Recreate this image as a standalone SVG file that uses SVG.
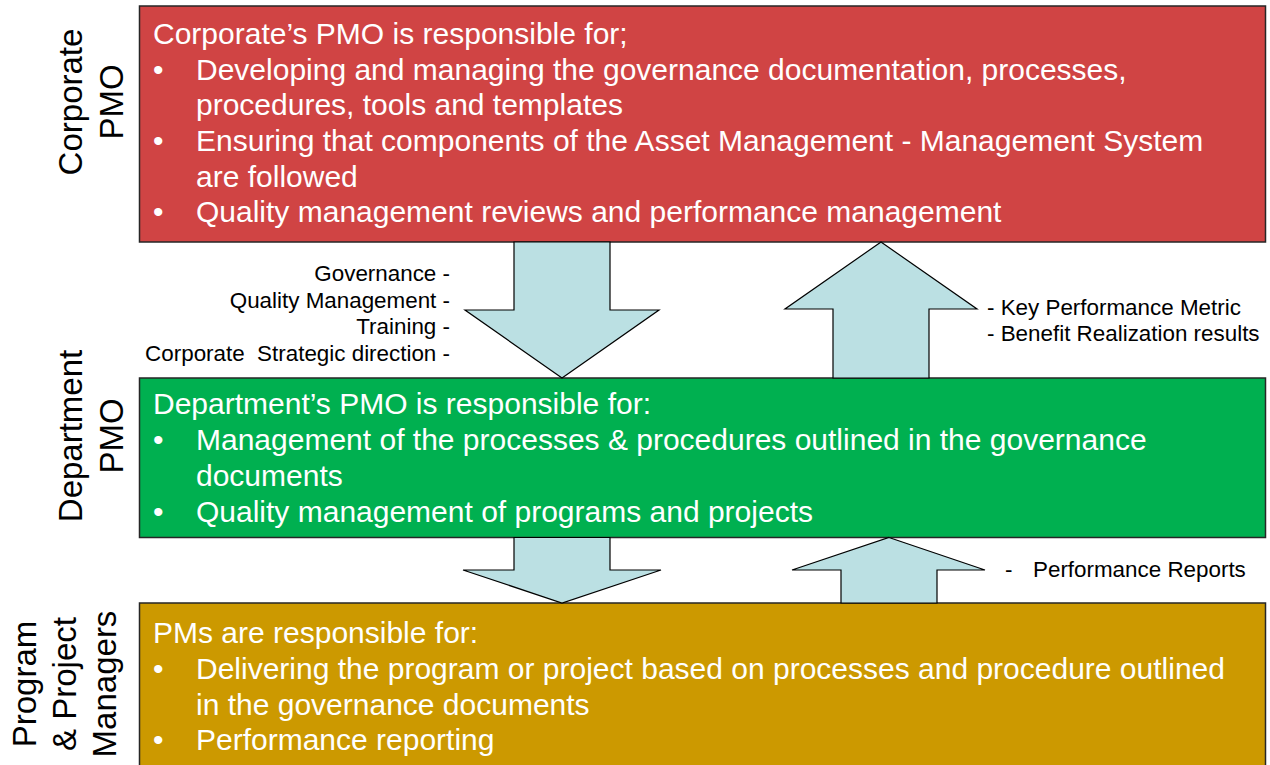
<svg xmlns="http://www.w3.org/2000/svg" width="1270" height="765" viewBox="0 0 1270 765">
<style>
.box{stroke:#262626;stroke-width:1.5}
.arr{fill:#BBE0E3;stroke:#000;stroke-width:1.2;stroke-linejoin:miter}
.bt{font-family:"Liberation Sans",Arial,sans-serif;font-size:30px;fill:#fff}
.lbl{font-family:"Liberation Sans",Arial,sans-serif;font-size:22.4px;fill:#000}
.side{font-family:"Liberation Sans",Arial,sans-serif;font-size:33px;fill:#000;text-anchor:middle}
</style>
<rect width="1270" height="765" fill="#fff"/>
<g id="corporate-label">
<text class="side" transform="translate(82,102) rotate(-90)">Corporate</text>
<text class="side" transform="translate(123,102) rotate(-90)">PMO</text>
</g>
<g id="department-label">
<text class="side" transform="translate(82,436) rotate(-90)">Department</text>
<text class="side" transform="translate(123,436) rotate(-90)">PMO</text>
</g>
<g id="pm-label">
<text class="side" transform="translate(36,684) rotate(-90)">Program</text>
<text class="side" transform="translate(76,684) rotate(-90)">&amp; Project</text>
<text class="side" transform="translate(116,684) rotate(-90)">Managers</text>
</g>
<g id="corporate-pmo">
<rect class="box" x="139.5" y="6" width="1126" height="236" fill="#D04444"/>
<text class="bt" x="153" y="43.5">Corporate’s PMO is responsible for;</text>
<text class="bt" x="153" y="79.5">•</text><text class="bt" x="196" y="79.5">Developing and managing the governance documentation, processes,</text>
<text class="bt" x="196" y="115">procedures, tools and templates</text>
<text class="bt" x="153" y="150.5">•</text><text class="bt" x="196" y="150.5">Ensuring that components of the Asset Management - Management System</text>
<text class="bt" x="196" y="186.5">are followed</text>
<text class="bt" x="153" y="222">•</text><text class="bt" x="196" y="222">Quality management reviews and performance management</text>
</g>
<g id="department-pmo">
<rect class="box" x="139.5" y="378" width="1126" height="159.5" fill="#00B050"/>
<text class="bt" x="153" y="414">Department’s PMO is responsible for:</text>
<text class="bt" x="153" y="450">•</text><text class="bt" x="196" y="450">Management of the processes &amp; procedures outlined in the governance</text>
<text class="bt" x="196" y="486">documents</text>
<text class="bt" x="153" y="521.5">•</text><text class="bt" x="196" y="521.5">Quality management of programs and projects</text>
</g>
<g id="program-managers">
<rect class="box" x="139.5" y="603" width="1126" height="170" fill="#CC9900"/>
<text class="bt" x="153" y="643">PMs are responsible for:</text>
<text class="bt" x="153" y="679">•</text><text class="bt" x="196" y="679">Delivering the program or project based on processes and procedure outlined</text>
<text class="bt" x="196" y="715">in the governance documents</text>
<text class="bt" x="153" y="750">•</text><text class="bt" x="196" y="750">Performance reporting</text>
</g>
<g id="connectors">
<polygon class="arr" points="514,242 610,242 610,310 659,310 562,378 465,310 514,310"/>
<polygon class="arr" points="881,242 977,309 929,309 929,378 833,378 833,309 785,309"/>
<polygon class="arr" points="514,537.5 610,537.5 610,570 661,570 562,603 463,570 514,570"/>
<polygon class="arr" points="889,537.5 985,570 937,570 937,603 841,603 841,570 792,570"/>
</g>
<g id="labels">
<text class="lbl" text-anchor="end" x="450" y="280.5">Governance -</text>
<text class="lbl" text-anchor="end" x="450" y="307.5">Quality Management -</text>
<text class="lbl" text-anchor="end" x="450" y="334">Training -</text>
<text class="lbl" text-anchor="end" x="450" y="361" xml:space="preserve">Corporate  Strategic direction -</text>
<text class="lbl" x="987" y="315">- Key Performance Metric</text>
<text class="lbl" x="987" y="341">- Benefit Realization results</text>
<text class="lbl" y="577"><tspan x="1005">-</tspan><tspan x="1033">Performance Reports</tspan></text>
</g>
</svg>
